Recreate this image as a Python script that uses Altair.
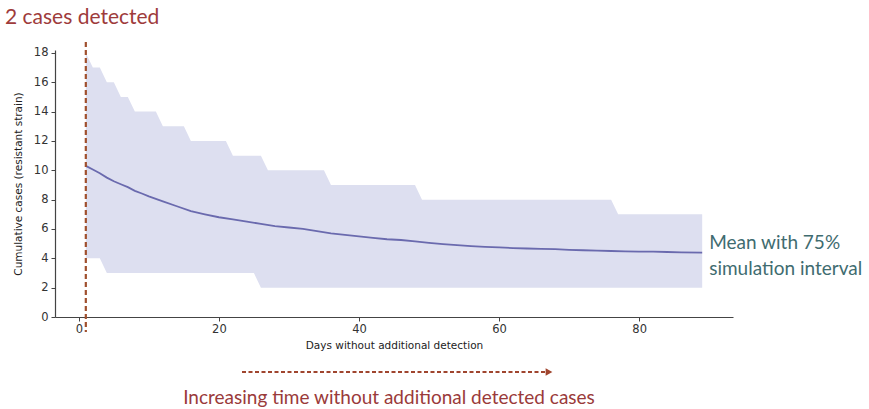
import altair as alt
import pandas as pd

# ---- data ----
band_days = [1, 2, 3, 4, 5, 6, 7, 8, 11, 12, 15, 16, 21, 22, 25, 26, 27, 35, 36, 48, 49, 76, 77, 89]
band_upper = [18, 17, 17, 16, 16, 15, 15, 14, 14, 13, 13, 12, 12, 11, 11, 11, 10, 10, 9, 9, 8, 8, 7, 7]
band_lower = [4, 4, 4, 3, 3, 3, 3, 3, 3, 3, 3, 3, 3, 3, 3, 2, 2, 2, 2, 2, 2, 2, 2, 2]

mean_days = [1, 2, 3, 4, 5, 6, 7, 8, 9, 10, 12, 14, 16, 18, 20, 22, 24, 26, 28, 30, 32, 34, 36,
             38, 40, 42, 44, 46, 48, 50, 52, 54, 56, 58, 60, 62, 64, 66, 68, 70, 72, 74, 76,
             78, 80, 82, 84, 86, 89]
mean_values = [10.3, 10.05, 9.8, 9.5, 9.25, 9.05, 8.85, 8.6, 8.42, 8.22, 7.88, 7.55, 7.22, 7.0, 6.8,
               6.65, 6.5, 6.35, 6.2, 6.1, 6.0, 5.85, 5.7, 5.6, 5.5, 5.4, 5.3, 5.25, 5.15, 5.05,
               4.97, 4.9, 4.83, 4.78, 4.74, 4.7, 4.67, 4.65, 4.62, 4.58, 4.55, 4.52, 4.5, 4.48,
               4.46, 4.45, 4.43, 4.41, 4.39]

detect_day = [1]
x_ticks = [0, 20, 40, 60, 80]
y_ticks = [0, 2, 4, 6, 8, 10, 12, 14, 16, 18]

top_label = ["2 cases detected"]
bottom_label = ["Increasing time without additional detected cases"]
series_label = ["Mean with 75%\nsimulation interval"]

band_df = pd.DataFrame({"day": band_days, "upper": band_upper, "lower": band_lower})
mean_df = pd.DataFrame({"day": mean_days, "mean": mean_values})

W, H = 678, 267
xscale = alt.Scale(domain=[-3.4, 93.4], nice=False, zero=False)
yscale = alt.Scale(domain=[0, 18.2], nice=False)
xaxis = alt.Axis(values=x_ticks, title="Days without additional detection",
                 titlePadding=6, labelPadding=2, labelOverlap=False)
yaxis = alt.Axis(values=y_ticks, title="Cumulative cases (resistant strain)",
                 titlePadding=10, labelPadding=3, labelOverlap=False)

band = alt.Chart(band_df).mark_area(color="#dddff0", opacity=1).encode(
    x=alt.X("day:Q", scale=xscale, axis=xaxis),
    y=alt.Y("upper:Q", scale=yscale, axis=yaxis),
    y2="lower:Q",
)

line = alt.Chart(mean_df).mark_line(color="#6a6aae", strokeWidth=1.8).encode(
    x=alt.X("day:Q", scale=xscale, axis=xaxis),
    y=alt.Y("mean:Q", scale=yscale, axis=yaxis),
)

vline = alt.Chart(pd.DataFrame({"day": detect_day})).mark_rule(
    color="#a0502e", strokeDash=[5, 3], strokeWidth=2.2
).encode(x=alt.X("day:Q", scale=xscale, axis=xaxis), y=alt.value(-8), y2=alt.value(282))

last = pd.DataFrame({"day": [mean_days[-1]], "mean": [mean_values[-1]], "t": series_label})
series_text = alt.Chart(last).mark_text(
    align="left", baseline="middle", dx=7, dy=-10, font="Lato", fontSize=19,
    color="#3f6c70", lineBreak="\n", lineHeight=26
).encode(
    x=alt.X("day:Q", scale=xscale, axis=xaxis),
    y=alt.Y("mean:Q", scale=yscale, axis=yaxis),
    text="t:N",
)

top_text = alt.Chart(pd.DataFrame({"t": top_label})).mark_text(
    align="left", baseline="middle", font="Lato", fontSize=21, color="#9e3b3b"
).encode(x=alt.value(-50), y=alt.value(-32), text="t:N")

bottom_text = alt.Chart(pd.DataFrame({"t": bottom_label})).mark_text(
    align="center", baseline="middle", font="Lato", fontSize=19, color="#9a3a3a"
).encode(x=alt.value(334), y=alt.value(348), text="t:N")

arrow_line = alt.Chart(pd.DataFrame({"t": ["arrow"]})).mark_rule(
    color="#a0452e", strokeDash=[4, 2.5], strokeWidth=2
).encode(x=alt.value(187), x2=alt.value(492), y=alt.value(322))

arrow_head = alt.Chart(pd.DataFrame({"t": ["arrow"]})).mark_point(
    shape="triangle-right", filled=True, color="#a0452e", size=60, opacity=1
).encode(x=alt.value(494), y=alt.value(322))

chart = alt.layer(
    band, line, vline, series_text, top_text, bottom_text, arrow_line, arrow_head
).properties(
    width=W, height=H,
    autosize=alt.AutoSizeParams(type="none"),
    padding={"left": 55, "top": 50, "right": 869 - 55 - W, "bottom": 409 - 50 - H},
).configure_view(stroke=None).configure_axis(
    grid=False, domainColor="#444444", tickColor="#444444", labelColor="#333333",
    titleColor="#222222", labelFont="DejaVu Sans", titleFont="DejaVu Sans",
    labelFontSize=11.5, titleFontSize=10.5, titleFontWeight="normal", tickSize=4,
    domainWidth=1.2,
)

chart.save("out.html", embed_options={"renderer": "svg", "actions": False})
